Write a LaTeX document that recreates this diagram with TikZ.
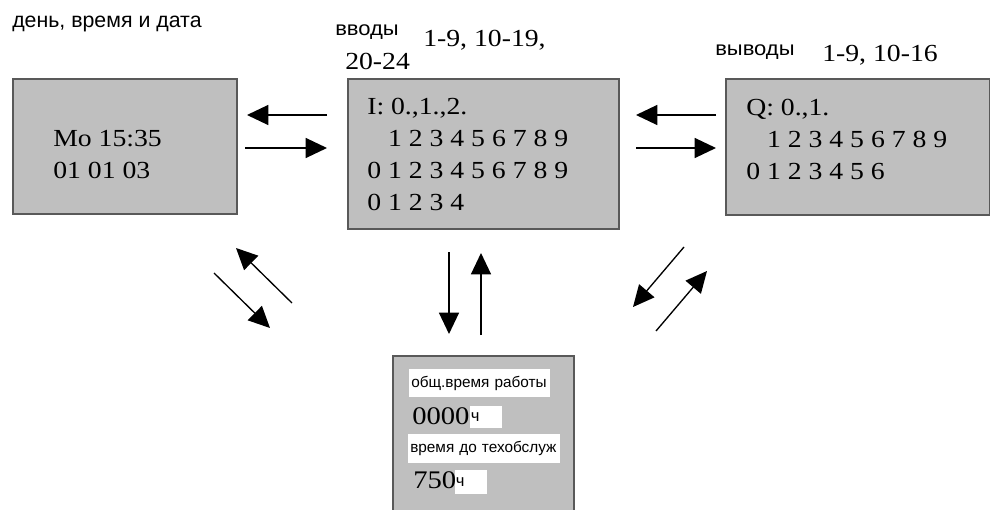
\documentclass[tikz,border=0pt]{standalone}
\usepackage{fontspec}
\setmainfont{Liberation Serif}[FakeStretch=1.13]
\newfontfamily\lblfont{Liberation Sans}[FakeStretch=1.1]
\newfontfamily\fieldfont{Liberation Sans}
\usetikzlibrary{arrows.meta}

\begin{document}
\begin{tikzpicture}[x=0.75pt, y=-0.75pt,
    panel/.style={draw=black!65, line width=1.2pt, fill=black!25, anchor=north west, inner sep=0pt},
    screen/.style={anchor=base west, inner sep=0pt, align=left, font=\fontsize{18.4}{24}\selectfont},
    caption/.style={anchor=base west, inner sep=0pt, font=\lblfont\fontsize{15}{17}\selectfont},
    field/.style={fill=white, anchor=north west, inner ysep=0pt, inner xsep=1.5pt, align=left, font=\fieldfont\fontsize{11.5}{13}\selectfont},
    arr/.style={-{Triangle[length=16pt,width=15pt]}, line width=1pt}]
            \path[use as bounding box, fill=white] (0,0) rectangle (990,510);

            % panels
            \node[panel, minimum width=168pt, minimum height=101.25pt] at (12,78)  (clock) {};
            \node[panel, minimum width=203.25pt, minimum height=112.5pt] at (347,78) (inputs) {};
            \node[panel, minimum width=198pt, minimum height=102pt] at (725,78) (outputs) {};
            \node[panel, minimum width=135.75pt, minimum height=124pt] at (392,355) (counter) {};

            % captions
            \node[caption, font=\fieldfont\fontsize{16}{18}\selectfont] at (12,28) (daylbl) {день, время и дата};
            \node[caption] at (335,36) (inlbl) {вводы};
            \node[screen] at (423,47) (inrange) {1-9, 10-19,};
            \node[screen] at (345,70) (inrange2) {20-24};
            \node[caption] at (715,56) (outlbl) {выводы};
            \node[screen] at (822,62) (outrange) {1-9, 10-16};

            % screen texts (anchored at the last line)
            \node[screen] at (53,178) (clocktxt) {Mo 15:35\\01 01 03};
            \node[screen] at (367,210) (intxt) {I: 0.,1.,2.\\\phantom{0} 1 2 3 4 5 6 7 8 9\\0 1 2 3 4 5 6 7 8 9\\0 1 2 3 4};
            \node[screen] at (746,180) (outtxt) {Q: 0.,1.\\\phantom{0} 1 2 3 4 5 6 7 8 9\\0 1 2 3 4 5 6};

            % counters
            \node[field, text width=102.75pt, minimum height=21pt] at (409,369) (hourslbl) {\mbox{общ.время работы}};
            \node[screen, font=\fontsize{19}{22}\selectfont] at (412,424) (hours) {0000};
            \node[field, text width=22.5pt, inner xsep=0.5pt, minimum height=16.5pt, font=\fieldfont\fontsize{12.5}{14}\selectfont] at (470,406) (hoursunit) {ч};
            \node[field, text width=111pt, minimum height=21.75pt] at (408,434) (servicelbl) {\mbox{время до техобслуж}};
            \node[screen, font=\fontsize{19}{22}\selectfont] at (413,488) (service) {750};
            \node[field, text width=22.5pt, inner xsep=0.5pt, minimum height=18pt, font=\fieldfont\fontsize{12.5}{14}\selectfont] at (455,470) (serviceunit) {ч};

            % arrow ends
            \coordinate (p1) at (327,115); \coordinate (q1) at (247,115);
            \coordinate (p2) at (245,148); \coordinate (q2) at (327,148);
            \coordinate (p3) at (716,115); \coordinate (q3) at (636,115);
            \coordinate (p4) at (636,148); \coordinate (q4) at (716,148);
            \coordinate (p5) at (214,273); \coordinate (q5) at (270,328);
            \coordinate (p6) at (292,303); \coordinate (q6) at (236,248);
            \coordinate (p7) at (449,252); \coordinate (q7) at (449,334);
            \coordinate (p8) at (481,335); \coordinate (q8) at (481,253);
            \coordinate (p9) at (684,247); \coordinate (q9) at (633,307);
            \coordinate (p10) at (656,331); \coordinate (q10) at (707,271);

            \draw [arr] (p1) -- (q1);
            \draw [arr] (p2) -- (q2);
            \draw [arr] (p3) -- (q3);
            \draw [arr] (p4) -- (q4);
            \draw [arr] (p5) -- (q5);
            \draw [arr] (p6) -- (q6);
            \draw [arr] (p7) -- (q7);
            \draw [arr] (p8) -- (q8);
            \draw [arr] (p9) -- (q9);
            \draw [arr] (p10) -- (q10);
        \end{tikzpicture}
\end{document}
